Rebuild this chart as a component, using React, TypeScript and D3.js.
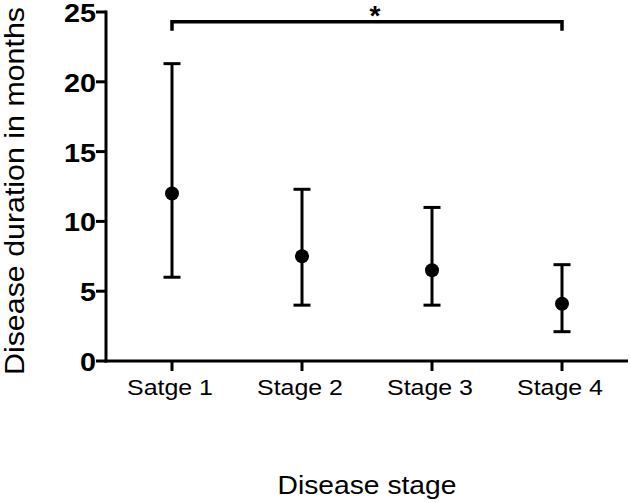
import React from "react";
import * as d3 from "d3";

const stages = ["Satge 1", "Stage 2", "Stage 3", "Stage 4"];
const means = [12.0, 7.5, 6.5, 4.1];
const upper = [21.3, 12.3, 11.0, 6.9];
const lower = [6.0, 4.0, 4.0, 2.1];
const yTicks = [0, 5, 10, 15, 20, 25];
const sigPair = ["Satge 1", "Stage 4"];
const sigLevel = 24.3;
const sigLabel = "*";
const xTitle = "Disease stage";
const yTitle = "Disease duration in months";

const W = 630;
const H = 503;
const FONT = "Arial, 'Liberation Sans', Helvetica, sans-serif";

export default function App() {
  const x = d3.scaleBand<string>().domain(stages).range([107, 627]).padding(0);
  const y = d3.scaleLinear().domain([0, 25]).range([361, 12]);
  const cx = (s: string) => (x(s) as number) + x.bandwidth() / 2;
  const axisX0 = 106;
  const axisY0 = y(0);
  const sw = 3;
  const cap = 8.5;

  const x1 = cx(sigPair[0]);
  const x2 = cx(sigPair[1]);
  const yb = y(sigLevel);

  return (
    <svg
      width={W}
      height={H}
      style={{ position: "absolute", left: 0, top: 0, background: "#fff" }}
      fontFamily={FONT}
    >
      <rect width={W} height={H} fill="#fff" />
      {/* y axis */}
      <line x1={axisX0} x2={axisX0} y1={y(25) - 1.5} y2={axisY0 + 1.5} stroke="#000" strokeWidth={sw} />
      {yTicks.map((t) => (
        <g key={t}>
          <line x1={axisX0 - 10} x2={axisX0} y1={y(t)} y2={y(t)} stroke="#000" strokeWidth={sw} />
          <text
            x={96}
            y={y(t) + 10}
            textAnchor="end"
            fontSize={25}
            fontWeight="bold"
            textLength={t < 10 ? 16 : 32}
            lengthAdjust="spacingAndGlyphs"
          >
            {t}
          </text>
        </g>
      ))}
      {/* x axis */}
      <line x1={axisX0 - 1.5} x2={628} y1={axisY0} y2={axisY0} stroke="#000" strokeWidth={sw} />
      {stages.map((s) => (
        <g key={s}>
          <line x1={cx(s)} x2={cx(s)} y1={axisY0} y2={axisY0 + 10} stroke="#000" strokeWidth={sw} />
          <text
            x={cx(s) - 2}
            y={395}
            textAnchor="middle"
            fontSize={22}
            textLength={86}
            lengthAdjust="spacingAndGlyphs"
          >
            {s}
          </text>
        </g>
      ))}
      {/* error bars */}
      {stages.map((s, i) => (
        <g key={"e" + s}>
          <line x1={cx(s)} x2={cx(s)} y1={y(upper[i])} y2={y(lower[i])} stroke="#000" strokeWidth={sw} />
          <line x1={cx(s) - cap} x2={cx(s) + cap} y1={y(upper[i])} y2={y(upper[i])} stroke="#000" strokeWidth={sw} />
          <line x1={cx(s) - cap} x2={cx(s) + cap} y1={y(lower[i])} y2={y(lower[i])} stroke="#000" strokeWidth={sw} />
          <circle cx={cx(s)} cy={y(means[i])} r={7} fill="#000" />
        </g>
      ))}
      {/* significance bracket */}
      <path
        d={`M${x1},${yb + 9}V${yb}H${x2}V${yb + 9}`}
        fill="none"
        stroke="#000"
        strokeWidth={3.5}
      />
      <text x={375} y={25} textAnchor="middle" fontSize={28} fontWeight="bold">
        {sigLabel}
      </text>
      {/* titles */}
      <text
        x={367}
        y={494}
        textAnchor="middle"
        fontSize={25}
        textLength={179}
        lengthAdjust="spacingAndGlyphs"
      >
        {xTitle}
      </text>
      <text
        transform={`translate(24,191) rotate(-90)`}
        textAnchor="middle"
        fontSize={28}
        textLength={368}
        lengthAdjust="spacingAndGlyphs"
      >
        {yTitle}
      </text>
    </svg>
  );
}
